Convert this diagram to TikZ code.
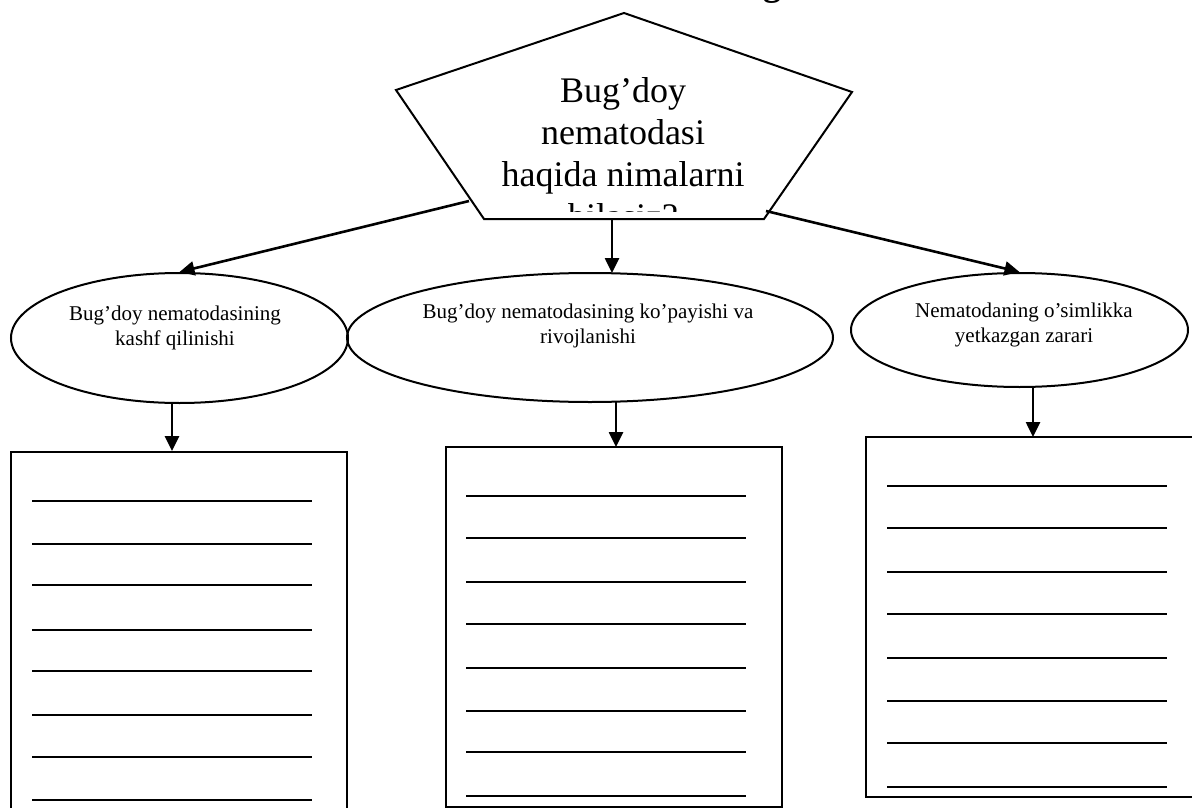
\documentclass[tikz,border=0pt]{standalone}
\usepackage{fontspec}
\setmainfont{Liberation Serif}
\usetikzlibrary{arrows.meta,shapes.geometric}
\begin{document}
\begin{tikzpicture}[x=1pt,y=-1pt,
  shape line/.style={draw=black,line width=2pt},
  oval/.style={shape line,ellipse,inner sep=0pt},
  sheet/.style={shape line,rectangle,inner sep=0pt},
  arr/.style={line width=2.6pt,-{Triangle[length=15pt,width=14pt]}},
  rule line/.style={line width=2pt},
  small text/.style={font=\fontsize{21}{25}\selectfont,align=center,anchor=base,inner sep=0pt},
  big text/.style={font=\fontsize{36}{42}\selectfont,align=center,anchor=base,inner sep=0pt}]
\useasboundingbox (0,0) rectangle (1192,808);
\clip (0,0) rectangle (1192,808);
% title remnant
\node[font=\bfseries\fontsize{36}{42}\selectfont,anchor=base,inner sep=0pt] (title) at (772,-4) {g};
% pentagon
\coordinate (pt) at (624,13);
\coordinate (pl) at (396,90);
\coordinate (pr) at (852,92);
\coordinate (pbl) at (484,219);
\coordinate (pbr) at (764,219);
\draw[shape line,line join=miter] (pt) -- (pr) -- (pbr) -- (pbl) -- (pl) -- cycle;
\begin{scope}
  \clip (400,20) rectangle (850,211);
  \node[big text] (ptext) at (623,228) {Bug’doy\\nematodasi\\haqida nimalarni\\bilasiz?};
\end{scope}
% ellipses
\node[oval,minimum width=337pt,minimum height=130pt] (e1) at (179.5,338) {};
\node[oval,minimum width=486pt,minimum height=129pt] (e2) at (590,337.5) {};
\node[oval,minimum width=337pt,minimum height=114pt] (e3) at (1019.5,330) {};
\node[small text] (t1) at (175,345) {Bug’doy nematodasining\\kashf qilinishi};
\node[small text] (t2) at (588,343) {Bug’doy nematodasining ko’payishi va\\rivojlanishi};
\node[small text] (t3) at (1024,342) {Nematodaning o’simlikka\\yetkazgan zarari};
% boxes
\node[sheet,minimum width=336pt,minimum height=380pt] (b1) at (179,642) {};
\node[sheet,minimum width=336pt,minimum height=360pt] (b2) at (614,627) {};
\node[sheet,minimum width=336pt,minimum height=360pt] (b3) at (1034,617) {};
% arrows from pentagon
\coordinate (sL) at (469,201);
\coordinate (sM) at (612,219);
\coordinate (sR) at (766,211);
\coordinate (eM) at (612,273);
\draw[arr] (sL) -- (e1.north);
\draw[arr] (sM) -- (eM);
\draw[arr] (sR) -- (e3.north);
% arrows to boxes
\coordinate (d1s) at (172,403);
\coordinate (d1e) at (172,451);
\coordinate (d2s) at (616,402);
\coordinate (d2e) at (616,447);
\coordinate (d3s) at (1033,387);
\coordinate (d3e) at (1033,437);
\draw[arr] (d1s) -- (d1e);
\draw[arr] (d2s) -- (d2e);
\draw[arr] (d3s) -- (d3e);
% writing lines
\foreach \y in {501,544,585,630,671,715,757,800} \draw[rule line] (32,\y) -- (312,\y);
\foreach \y in {496,538,582,624,668,711,752,796} \draw[rule line] (466,\y) -- (746,\y);
\foreach \y in {486,528,572,614,658,701,743,787} \draw[rule line] (887,\y) -- (1167,\y);
\end{tikzpicture}
\end{document}
